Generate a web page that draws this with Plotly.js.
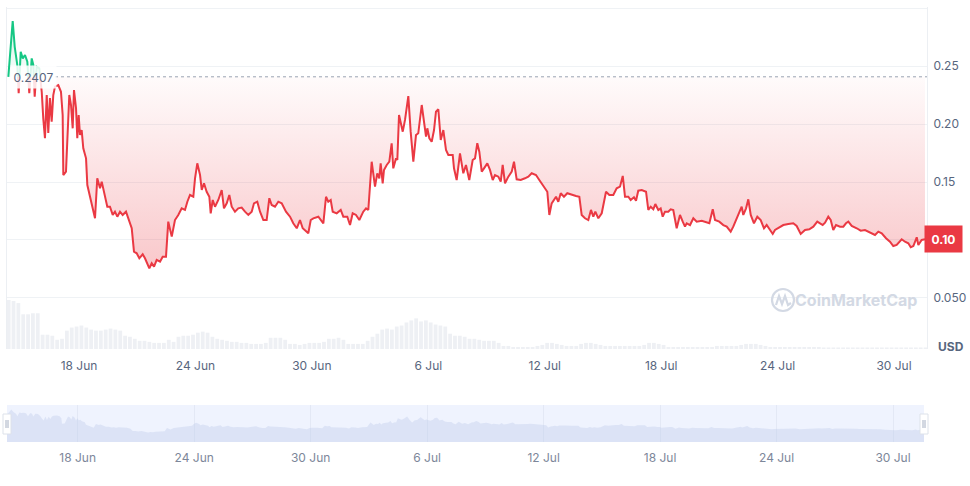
<!DOCTYPE html>
<html><head><meta charset="utf-8">
<script src="https://cdn.plot.ly/plotly-3.0.1.min.js"></script>
<style>html,body{margin:0;padding:0;background:#fff;}#chart{width:970px;height:486px;}</style>
</head><body><div id="chart"></div>
<script>
// hours since 14 Jun 00:00
const hours = [8.6,14,16.5,19.7,21.4,23.9,26.4,29.2,32.1,34.5,37.5,39.5,41.2,43.7,46.9,49.9,51.8,53.9,56.1,58,60.1,62.2,64.2,66.3,70.4,73.7,75.8,76.6,79.9,82,84,86.1,88.2,89.8,92.3,93.9,95.6,97.2,99.3,101.3,104.7,106.3,109.6,111.7,115.8,118.6,122,124.1,128.2,131,134.3,137.7,140.5,143.4,146.7,150,154.1,157,161.2,164,167.4,170.6,174.8,177.6,179.7,183,185.9,188.8,192.1,196.2,199.5,203.6,206.4,210.7,214.7,218.8,223,227.1,230,233.3,237.4,239.5,242.3,245.7,247.8,250.6,253.9,257.2,258.9,261.4,264.2,268.3,272.5,275.3,278.7,281.9,284.9,288.9,293,297.2,301.3,305.4,309.6,312.4,316.5,319.9,324,328.1,331.4,334.3,338.4,342.5,346.7,352,357,361,365.3,369.3,372.7,376.8,379.6,382.6,385.8,392,398.2,401.5,404.3,407.3,409.8,414.7,419.7,422.9,427.8,431.2,434.5,438.6,442.7,447.6,451,453.8,458,462.1,464.9,467.4,469.1,471.6,473.2,476.6,479.8,482.7,484.7,488.1,489.7,491.8,493.9,496.4,499.2,503.3,506.2,509.5,512.8,515.6,519.9,522.7,525.2,526.8,529.3,532.2,535.1,537.5,540.4,543.4,546.6,549.9,552.8,558.2,559.8,563.1,567.2,571.3,574.6,578.7,582.9,585.8,588.6,591.1,594.1,596.9,601,604.3,607.7,610.5,614.6,617.6,620,622.9,627,631.2,634,637.3,642.3,647.6,651.7,655.9,661.2,665.3,669.5,672.3,675.2,677.7,680.6,686,688.8,691.8,695.8,699.9,705.4,710.7,714.8,717.7,721.8,725.9,729.2,732.1,734.6,738.3,742.5,747.8,751.9,756.8,761,765.1,768.5,771.3,775.4,778.3,782.4,784.9,787.7,792,797.3,800.1,803.1,806.3,808.8,812.5,815.4,817.9,820.8,824.8,827.8,831,835.2,839.3,842.7,845.5,847.6,851.7,855.8,860,866.2,870.2,875.6,879.8,882.6,887.9,892.9,897.1,902,905.2,909.4,912.7,915.6,917.6,921,923.8,926.8,930.8,934.9,939.1,943.2,946.5,950.6,954,956.8,960.9,967.1,973.3,979.4,983.6,988.6,993.9,999.2,1004.2,1009.1,1012.5,1015.8,1018.7,1022.7,1025.7,1028.9,1032.3,1037.2,1041.3,1044.6,1047.5,1051.7,1057.9,1062.8,1068.1,1072.2,1076.4,1080.5,1084.6,1088.8,1094.1,1099,1103.1,1107.3,1113.5,1117.6,1121.7,1124.7,1127.9,1132.1,1134.1,1138.2,1142.3];
const prices = [0.2407,0.2888,0.2666,0.2509,0.2265,0.2623,0.2566,0.2595,0.2537,0.2265,0.2566,0.2509,0.2235,0.2494,0.248,0.2278,0.2049,0.1877,0.225,0.1922,0.2224,0.202,0.225,0.2322,0.2336,0.2278,0.2078,0.156,0.1589,0.1905,0.225,0.2164,0.1963,0.2293,0.2138,0.1877,0.2078,0.1905,0.1948,0.1791,0.1704,0.1474,0.1373,0.1302,0.1187,0.1532,0.1446,0.1503,0.136,0.1287,0.1287,0.1216,0.1244,0.1201,0.1244,0.1216,0.1244,0.1187,0.1101,0.0899,0.0885,0.0842,0.0877,0.0842,0.0813,0.0756,0.0799,0.077,0.0828,0.0813,0.0856,0.0856,0.1158,0.1029,0.1172,0.1216,0.1273,0.1259,0.133,0.1388,0.1373,0.1532,0.1661,0.156,0.1431,0.1489,0.1416,0.1373,0.123,0.1345,0.1287,0.1345,0.1431,0.1273,0.1316,0.1388,0.1287,0.1244,0.1273,0.1279,0.1244,0.1216,0.1244,0.1316,0.133,0.1244,0.1172,0.1172,0.136,0.1302,0.1287,0.133,0.1316,0.1244,0.1201,0.1144,0.1101,0.1172,0.1101,0.1072,0.1058,0.1172,0.1187,0.1201,0.1144,0.1373,0.133,0.1345,0.1244,0.123,0.1259,0.1201,0.1201,0.1129,0.123,0.1216,0.1172,0.1244,0.1273,0.1259,0.1675,0.146,0.1575,0.1532,0.1661,0.1489,0.1604,0.1647,0.1675,0.1834,0.1618,0.1704,0.169,0.2078,0.202,0.1934,0.2035,0.2241,0.1934,0.1675,0.1905,0.192,0.2164,0.1991,0.1891,0.1963,0.1877,0.1847,0.1948,0.2106,0.2127,0.1862,0.1948,0.1776,0.1733,0.1733,0.1618,0.1517,0.1747,0.1575,0.1647,0.1517,0.169,0.1704,0.1834,0.1761,0.1589,0.1618,0.1661,0.1604,0.1517,0.156,0.1546,0.1503,0.1647,0.1489,0.1546,0.1589,0.1675,0.1523,0.1517,0.1532,0.1546,0.1575,0.156,0.1517,0.1474,0.1446,0.1416,0.1216,0.1316,0.1373,0.133,0.1403,0.1373,0.1403,0.1388,0.1379,0.1373,0.1216,0.1187,0.1172,0.1259,0.1201,0.1244,0.1187,0.123,0.1416,0.1388,0.1388,0.1446,0.146,0.1552,0.1373,0.1373,0.1345,0.1368,0.1339,0.1425,0.1431,0.1416,0.1259,0.1287,0.1265,0.131,0.1259,0.1273,0.1201,0.1244,0.1244,0.1265,0.1259,0.1101,0.1216,0.1158,0.1115,0.1144,0.1129,0.1187,0.1158,0.1166,0.1158,0.1144,0.1265,0.1172,0.1158,0.1129,0.1115,0.1072,0.1115,0.1187,0.123,0.1287,0.1216,0.1273,0.1351,0.1216,0.1144,0.1201,0.1172,0.1101,0.1129,0.1086,0.1052,0.1086,0.1101,0.1129,0.1138,0.1144,0.1121,0.1052,0.1086,0.1092,0.1115,0.1158,0.1144,0.1129,0.1149,0.1201,0.1172,0.1086,0.1129,0.1115,0.1115,0.1144,0.1158,0.1121,0.1101,0.108,0.1086,0.1072,0.1058,0.1043,0.1072,0.1058,0.1015,0.0985,0.0948,0.0957,0.1006,0.0985,0.0972,0.0937,0.0948,0.1023,0.0957,0.1,0.1006];
const baseline = 0.2407;
const lastPriceLabel = '0.10';
// 6-hourly volume (relative units), first bar at 14 Jun 09:00
const volStartHour = 9, volStepHours = 6;
const volume = [48,47,45,34,34,35,35,14,14,13, 9,10,18,21,22,23,21,19,18,18, 19,20,19,18,13,12,10,8,8,7, 6,6,6,9,7,12,13,13,14,16, 17,16,12,10,9,8,7,7,6,6, 5,5,5,6,11,11,11,9,5,5, 4,5,6,6,6,7,10,10,11,9, 5,5,5,5,8,12,15,19,20,19, 22,23,26,28,30,27,28,26,24,23, 22,15,13,13,12,10,10,9,8,8, 8,6,3,3,2,2,2,2,2,3, 4,6,6,5,4,3,3,3,5,6, 6,5,4,3,3,3,3,3,3,3, 3,4,6,6,5,4,2,2,2,2, 2,2,2,2,2,2,3,3,3,3, 3,4,5,5,5,4,3,2,2,2, 2,2,2,2,2,2,2,2,1.5,1.5, 1.5,1.5,1.5,1.5,1.5,1.5,1.5,1.5,1.5,1.5, 1.5,1.5,1.5,1.5,1.5,1.5,1.5,1.5,1.5,1.5];
const tickDates = ['2023-06-18','2023-06-24','2023-06-30','2023-07-06','2023-07-12','2023-07-18','2023-07-24','2023-07-30'];
const tickLabels = ['18 Jun','24 Jun','30 Jun','6 Jul','12 Jul','18 Jul','24 Jul','30 Jul'];
// 0.10 tick text is covered by the current-price tag, so it is left blank
const yTickVals = [0.05,0.10,0.15,0.20,0.25,0.30];
const yTickText = ['0.050','','0.15','0.20','0.25',''];

const RED = '#ea3943', GREEN = '#16c784', GREY = '#58667e';
const t0 = Date.UTC(2023,5,14);
function pad(n){return String(n).padStart(2,'0');}
function toDate(h){const d=new Date(t0+h*3600000);return d.getUTCFullYear()+'-'+pad(d.getUTCMonth()+1)+'-'+pad(d.getUTCDate())+' '+pad(d.getUTCHours())+':'+pad(d.getUTCMinutes())+':'+pad(d.getUTCSeconds());}

const n = Math.min(hours.length, prices.length);
const hx=[], vy=[];
for(let i=0;i<n;i++){
  hx.push(hours[i]); vy.push(prices[i]);
  if(i<n-1){
    const a=prices[i]-baseline, b=prices[i+1]-baseline;
    if(a*b<0){const f=a/(a-b); hx.push(hours[i]+f*(hours[i+1]-hours[i])); vy.push(baseline);}
  }
}
const xs = hx.map(toDate);
const baseY = xs.map(()=>baseline);
const redFill = vy.map(v=>Math.min(v,baseline));
const greenFill = vy.map(v=>Math.max(v,baseline));
const redLine = vy.map(v=>v<=baseline?v:null);
const greenLine = vy.map(v=>v>=baseline?v:null);
const volX = volume.map((_,i)=>toDate(volStartHour+i*volStepHours));
const navX = hours.slice(0,n).map(toDate);
const navLow = -0.014;

const traces = [
  {x:volX,y:volume,type:'bar',xaxis:'x',yaxis:'y3',marker:{color:'#eef0f4'},width:volStepHours*3600000*0.78,hoverinfo:'skip'},
  {x:xs,y:baseY,type:'scatter',mode:'lines',line:{width:0},hoverinfo:'skip'},
  {x:xs,y:redFill,type:'scatter',mode:'lines',line:{width:0},fill:'tonexty',fillcolor:'rgba(234,57,67,0.1)',
   fillgradient:{type:'vertical',start:0.075,stop:baseline,colorscale:[[0,'rgba(234,57,67,0.28)'],[1,'rgba(234,57,67,0.02)']]},hoverinfo:'skip'},
  {x:xs,y:baseY,type:'scatter',mode:'lines',line:{width:0},hoverinfo:'skip'},
  {x:xs,y:greenFill,type:'scatter',mode:'lines',line:{width:0},fill:'tonexty',fillcolor:'rgba(22,199,132,0.1)',
   fillgradient:{type:'vertical',start:baseline,stop:0.29,colorscale:[[0,'rgba(22,199,132,0.03)'],[1,'rgba(22,199,132,0.2)']]},hoverinfo:'skip'},
  {x:xs,y:redLine,type:'scatter',mode:'lines',line:{color:RED,width:2},connectgaps:false,hoverinfo:'skip'},
  {x:xs,y:greenLine,type:'scatter',mode:'lines',line:{color:GREEN,width:2},connectgaps:false,hoverinfo:'skip'},
  {x:navX,y:navX.map(()=>navLow),xaxis:'x2',yaxis:'y2',type:'scatter',mode:'lines',line:{width:0},hoverinfo:'skip'},
  {x:navX,y:prices.slice(0,n),xaxis:'x2',yaxis:'y2',type:'scatter',mode:'lines',line:{width:0},fill:'tonexty',fillcolor:'rgba(190,203,235,0.38)',hoverinfo:'skip'}
];

function px(x){return (x-7)/920;}
function py(y){return (442-y)/435;}
const shapes = [
  {type:'rect',xref:'paper',yref:'paper',x0:0,x1:px(924),y0:0,y1:py(405),fillcolor:'#eff3fe',line:{width:0},layer:'below'},
  {type:'line',xref:'paper',yref:'y',x0:px(55),x1:1,y0:baseline,y1:baseline,line:{color:'#9aa3b2',width:1,dash:'dot'}},
  // watermark logo
  {type:'circle',xref:'paper',yref:'paper',x0:px(772),x1:px(794),y0:py(311),y1:py(289),line:{color:'#d3d9e4',width:2.2}},
  {type:'path',xref:'paper',yref:'paper',path:'M '+px(776)+' '+py(305)+' L '+px(779)+' '+py(296)+' L '+px(782)+' '+py(304)+' L '+px(785)+' '+py(296)+' L '+px(788)+' '+py(305)+' L '+px(791)+' '+py(303),line:{color:'#d3d9e4',width:2.2}},
  // navigator handles
  {type:'rect',xref:'paper',yref:'paper',x0:px(3),x1:px(11),y0:py(434),y1:py(414),fillcolor:'#ffffff',line:{color:'#dde2ea',width:1}},
  {type:'line',xref:'paper',yref:'paper',x0:px(6),x1:px(6),y0:py(428),y1:py(420),line:{color:'#a6b0c3',width:1}},
  {type:'line',xref:'paper',yref:'paper',x0:px(8),x1:px(8),y0:py(428),y1:py(420),line:{color:'#a6b0c3',width:1}},
  {type:'rect',xref:'paper',yref:'paper',x0:px(920),x1:px(928),y0:py(434),y1:py(414),fillcolor:'#ffffff',line:{color:'#dde2ea',width:1}},
  {type:'line',xref:'paper',yref:'paper',x0:px(923),x1:px(923),y0:py(428),y1:py(420),line:{color:'#a6b0c3',width:1}},
  {type:'line',xref:'paper',yref:'paper',x0:px(925),x1:px(925),y0:py(428),y1:py(420),line:{color:'#a6b0c3',width:1}}
];
const annotations = [
  {xref:'paper',yref:'y',x:px(33),y:baseline,text:String(baseline),showarrow:false,font:{family:'Inter',size:12,color:GREY},bgcolor:'rgba(255,255,255,0.85)',width:43,height:20,xanchor:'center',yanchor:'middle'},
  {xref:'paper',yref:'paper',x:px(943.5),y:py(238.5),text:'<b>'+lastPriceLabel+'</b>',showarrow:false,font:{family:'Inter',size:12,color:'#ffffff'},bgcolor:RED,width:35,height:24,xanchor:'center',yanchor:'middle'},
  {xref:'paper',yref:'paper',x:px(951),y:py(346),text:'<b>USD</b>',showarrow:false,font:{family:'Inter',size:12,color:GREY},xanchor:'center',yanchor:'middle'},
  {xref:'paper',yref:'paper',x:px(856),y:py(300),text:'<b>CoinMarketCap</b>',showarrow:false,font:{family:'Inter',size:16,color:'#d3d9e4'},xanchor:'center',yanchor:'middle'}
];

const xr=[toDate(6.95),toDate(1144.8)];
const layout = {
  width:970,height:486,margin:{l:7,r:43,t:7,b:44},paper_bgcolor:'#ffffff',plot_bgcolor:'rgba(0,0,0,0)',
  showlegend:false,font:{family:'Inter',color:GREY,size:12},
  xaxis:{type:'date',domain:[0,1],anchor:'y',range:xr,tickvals:tickDates,ticktext:tickLabels,showgrid:false,zeroline:false,showline:false,ticks:'outside',ticklen:6,tickcolor:'rgba(0,0,0,0)',tickfont:{family:'Inter',size:12,color:GREY},fixedrange:true},
  yaxis:{domain:[py(349),1],anchor:'x',side:'right',range:[0.006,0.3009],tickvals:yTickVals,ticktext:yTickText,gridcolor:'#eff2f5',zeroline:false,showline:true,mirror:true,linecolor:'#eceff3',ticks:'outside',ticklen:3,tickcolor:'rgba(0,0,0,0)',tickfont:{family:'Inter',size:12,color:GREY},fixedrange:true},
  yaxis3:{domain:[py(349),py(300)],anchor:'x',range:[0,48],visible:false,fixedrange:true},
  xaxis2:{type:'date',domain:[0,px(924)],anchor:'y2',range:[toDate(hours[0]),toDate(hours[n-1])],tickvals:tickDates,ticktext:tickLabels,showgrid:true,gridcolor:'#e3e8f5',zeroline:false,showline:false,ticks:'outside',ticklen:5,tickcolor:'rgba(0,0,0,0)',tickfont:{family:'Inter',size:12,color:'#7d879a'},fixedrange:true},
  yaxis2:{domain:[0,py(405)],anchor:'x2',range:[navLow,0.332],visible:false,fixedrange:true},
  shapes:shapes,annotations:annotations,bargap:0.2
};
Plotly.newPlot('chart',traces,layout,{displayModeBar:false,staticPlot:true});
</script></body></html>
